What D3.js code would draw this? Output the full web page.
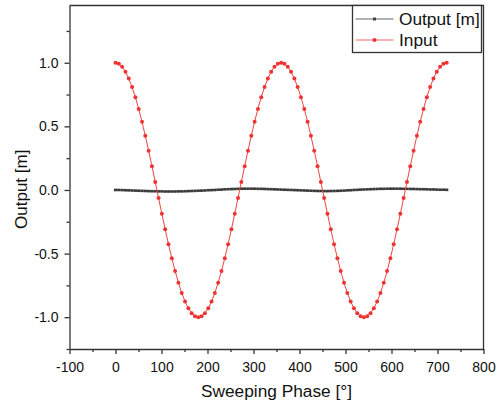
<!DOCTYPE html>
<html>
<head>
<meta charset="utf-8">
<script src="https://cdn.jsdelivr.net/npm/d3@7"></script>
<style>
  body { margin: 0; background: #fff; }
  svg { display: block; font-family: "Liberation Sans", Arial, sans-serif; }
  .axis path, .axis line { stroke: #333; stroke-width: 1.3; }
  .axis text { fill: #111; font-size: 14px; }
</style>
</head>
<body>
<svg id="chart" width="502" height="408"></svg>
<script>
// sweeping phase in degrees (x of every sample)
const phase = [
  0, 7.2, 14.4, 21.6, 28.8, 36, 43.2, 50.4, 57.6, 64.8,
  72, 79.2, 86.4, 93.6, 100.8, 108, 115.2, 122.4, 129.6, 136.8,
  144, 151.2, 158.4, 165.6, 172.8, 180, 187.2, 194.4, 201.6, 208.8,
  216, 223.2, 230.4, 237.6, 244.8, 252, 259.2, 266.4, 273.6, 280.8,
  288, 295.2, 302.4, 309.6, 316.8, 324, 331.2, 338.4, 345.6, 352.8,
  360, 367.2, 374.4, 381.6, 388.8, 396, 403.2, 410.4, 417.6, 424.8,
  432, 439.2, 446.4, 453.6, 460.8, 468, 475.2, 482.4, 489.6, 496.8,
  504, 511.2, 518.4, 525.6, 532.8, 540, 547.2, 554.4, 561.6, 568.8,
  576, 583.2, 590.4, 597.6, 604.8, 612, 619.2, 626.4, 633.6, 640.8,
  648, 655.2, 662.4, 669.6, 676.8, 684, 691.2, 698.4, 705.6, 712.8,
  720
];

const inputVals = [
  1, 0.9921, 0.9686, 0.9298, 0.8763, 0.809, 0.729, 0.6374, 0.5358, 0.4258,
  0.309, 0.1874, 0.0628, -0.0628, -0.1874, -0.309, -0.4258, -0.5358, -0.6374, -0.729,
  -0.809, -0.8763, -0.9298, -0.9686, -0.9921, -1, -0.9921, -0.9686, -0.9298, -0.8763,
  -0.809, -0.729, -0.6374, -0.5358, -0.4258, -0.309, -0.1874, -0.0628, 0.0628, 0.1874,
  0.309, 0.4258, 0.5358, 0.6374, 0.729, 0.809, 0.8763, 0.9298, 0.9686, 0.9921,
  1, 0.9921, 0.9686, 0.9298, 0.8763, 0.809, 0.729, 0.6374, 0.5358, 0.4258,
  0.309, 0.1874, 0.0628, -0.0628, -0.1874, -0.309, -0.4258, -0.5358, -0.6374, -0.729,
  -0.809, -0.8763, -0.9298, -0.9686, -0.9921, -1, -0.9921, -0.9686, -0.9298, -0.8763,
  -0.809, -0.729, -0.6374, -0.5358, -0.4258, -0.309, -0.1874, -0.0628, 0.0628, 0.1874,
  0.309, 0.4258, 0.5358, 0.6374, 0.729, 0.809, 0.8763, 0.9298, 0.9686, 0.9921,
  1
];

const outputVals = [
  0, 0, -0.001, -0.002, -0.003, -0.004, -0.005, -0.006, -0.007, -0.008,
  -0.009, -0.01, -0.01, -0.011, -0.011, -0.012, -0.012, -0.012, -0.012, -0.011,
  -0.011, -0.01, -0.009, -0.008, -0.007, -0.006, -0.005, -0.004, -0.002, -0.001,
  0, 0.002, 0.003, 0.005, 0.006, 0.007, 0.008, 0.009, 0.01, 0.01,
  0.01, 0.01, 0.01, 0.009, 0.009, 0.008, 0.007, 0.006, 0.005, 0.004,
  0.003, 0.002, 0.001, 0, -0.001, -0.002, -0.003, -0.004, -0.005, -0.006,
  -0.007, -0.008, -0.008, -0.009, -0.009, -0.008, -0.008, -0.007, -0.006, -0.005,
  -0.003, -0.002, 0, 0.001, 0.003, 0.004, 0.005, 0.006, 0.007, 0.008,
  0.009, 0.009, 0.01, 0.01, 0.01, 0.01, 0.01, 0.009, 0.009, 0.008,
  0.008, 0.007, 0.006, 0.006, 0.005, 0.004, 0.004, 0.003, 0.002, 0.002,
  0.001
];

const xTicks = [-100, 0, 100, 200, 300, 400, 500, 600, 700, 800];
const xMinor = [-50, 50, 150, 250, 350, 450, 550, 650, 750];
const yTicks = [-1.0, -0.5, 0.0, 0.5, 1.0];
const yMinor = [-1.25, -0.75, -0.25, 0.25, 0.75, 1.25];

const seriesNames = ['Output [m]', 'Input'];

const plotL = 69.5, plotR = 483.5, plotT = 5.5, plotB = 349;

const svg = d3.select('#chart');

const x = d3.scaleLinear().domain([-100, 800]).range([plotL, plotR]);
const y = d3.scaleLinear().domain([-1.25, 1.45]).range([plotB, plotT]);

// minor ticks
svg.append('g')
  .attr('class', 'axis')
  .attr('transform', `translate(0,${plotB})`)
  .call(d3.axisBottom(x).tickValues(xMinor).tickSize(3).tickFormat(''))
  .select('.domain').remove();
svg.append('g')
  .attr('class', 'axis')
  .attr('transform', `translate(${plotL},0)`)
  .call(d3.axisLeft(y).tickValues(yMinor).tickSize(3).tickFormat(''))
  .select('.domain').remove();

// major axes
svg.append('g')
  .attr('class', 'axis')
  .attr('transform', `translate(0,${plotB})`)
  .call(d3.axisBottom(x).tickValues(xTicks).tickSize(5).tickSizeOuter(0).tickPadding(8).tickFormat(d => String(d)));

svg.append('g')
  .attr('class', 'axis')
  .attr('transform', `translate(${plotL},0)`)
  .call(d3.axisLeft(y).tickValues(yTicks).tickSize(5).tickSizeOuter(0).tickPadding(6).tickFormat(d => d.toFixed(1)));

// top and right frame
svg.append('path')
  .attr('d', `M${plotL},${plotT}H${plotR}V${plotB}`)
  .attr('fill', 'none')
  .attr('stroke', '#333')
  .attr('stroke-width', 1.3);

const outData = phase.map((p, i) => [p, outputVals[i]]);
const inData = phase.map((p, i) => [p, inputVals[i]]);

const line = d3.line().x(d => x(d[0])).y(d => y(d[1]));

// Output series
svg.append('path')
  .datum(outData)
  .attr('d', line)
  .attr('fill', 'none')
  .attr('stroke', '#666')
  .attr('stroke-width', 1);
svg.append('g').selectAll('rect')
  .data(outData)
  .enter()
  .append('rect')
  .attr('x', d => x(d[0]) - 1.6)
  .attr('y', d => y(d[1]) - 1.3)
  .attr('width', 3.2)
  .attr('height', 2.6)
  .attr('fill', '#3a3a3a');

// Input series
svg.append('path')
  .datum(inData)
  .attr('d', line)
  .attr('fill', 'none')
  .attr('stroke', '#f04444')
  .attr('stroke-width', 1);
svg.append('g').selectAll('circle')
  .data(inData)
  .enter()
  .append('circle')
  .attr('cx', d => x(d[0]))
  .attr('cy', d => y(d[1]))
  .attr('r', 2)
  .attr('fill', '#ee3333');

// axis titles
svg.append('text')
  .attr('x', (plotL + plotR) / 2)
  .attr('y', 397)
  .attr('text-anchor', 'middle')
  .style('font-size', '17.3px')
  .attr('fill', '#111')
  .text('Sweeping Phase [°]');

svg.append('text')
  .attr('transform', `translate(27,${(plotT + plotB) / 2 + 12}) rotate(-90)`)
  .attr('text-anchor', 'middle')
  .style('font-size', '17px')
  .attr('fill', '#111')
  .text('Output [m]');

// legend
const legend = svg.append('g').attr('transform', 'translate(352.5,5.5)');
legend.append('rect')
  .attr('width', 129)
  .attr('height', 47)
  .attr('fill', '#fff')
  .attr('stroke', '#333')
  .attr('stroke-width', 1.3);

const legLine = ['#999', '#f59a9a'];
const legMark = ['#444', '#ee3333'];
seriesNames.forEach((name, i) => {
  const ly = 13.5 + i * 21;
  legend.append('line')
    .attr('x1', 3).attr('x2', 41)
    .attr('y1', ly).attr('y2', ly)
    .attr('stroke', legLine[i])
    .attr('stroke-width', 1.5);
  if (i === 0) {
    legend.append('rect')
      .attr('x', 20.5).attr('y', ly - 1.5)
      .attr('width', 3).attr('height', 3)
      .attr('fill', legMark[i]);
  } else {
    legend.append('circle')
      .attr('cx', 22).attr('cy', ly).attr('r', 2)
      .attr('fill', legMark[i]);
  }
  legend.append('text')
    .attr('x', 46.5)
    .attr('y', ly + 6)
    .style('font-size', '17.3px')
    .attr('fill', '#111')
    .text(name);
});
</script>
</body>
</html>
